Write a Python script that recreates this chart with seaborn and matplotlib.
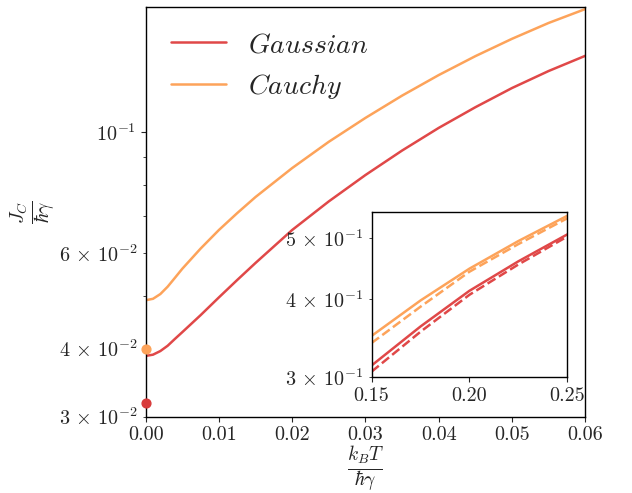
import numpy as np
import pandas as pd
import matplotlib
matplotlib.use("Agg")
import matplotlib.pyplot as plt
import seaborn as sns

# main panel: current vs temperature
T = [0.0, 0.001, 0.002, 0.003, 0.004, 0.005, 0.0075, 0.01, 0.0125, 0.015, 0.02,
     0.025, 0.03, 0.035, 0.04, 0.045, 0.05, 0.055, 0.06]
J_gauss = [0.0388, 0.0390, 0.0396, 0.0405, 0.0417, 0.0429, 0.0461, 0.0497, 0.0535, 0.0575, 0.0661,
           0.0746, 0.0834, 0.0925, 0.1018, 0.1111, 0.1205, 0.1295, 0.1381]
J_cauchy = [0.0491, 0.0494, 0.0504, 0.0520, 0.0540, 0.0561, 0.0611, 0.0661, 0.0710, 0.0760, 0.0859,
            0.0960, 0.1062, 0.1167, 0.1273, 0.1379, 0.1484, 0.1587, 0.1683]

# zero temperature points
J0_gauss = 0.0318
J0_cauchy = 0.0399

# inset: high temperature, solid = full, dashed = approximation
T_hi = [0.15, 0.175, 0.20, 0.225, 0.25]
Jhi_gauss = [0.313, 0.3613, 0.412, 0.4592, 0.507]
Jhi_gauss_approx = [0.306, 0.3544, 0.406, 0.4539, 0.503]
Jhi_cauchy = [0.349, 0.3976, 0.447, 0.4948, 0.543]
Jhi_cauchy_approx = [0.340, 0.3886, 0.442, 0.4893, 0.538]

red = "#e04848"
orange = "#fda35a"

sns.set_style("ticks")
plt.rcParams["font.family"] = "serif"
plt.rcParams["font.serif"] = ["cmr10", "DejaVu Serif"]
plt.rcParams["mathtext.fontset"] = "cm"
plt.rcParams["axes.formatter.use_mathtext"] = True

fs = 14.5


def sci(m, e):
    if m == 1:
        return r"$10^{%d}$" % e
    return r"$%d\,\times\,10^{%d}$" % (m, e)


fig = plt.figure(figsize=(6.32, 4.93), dpi=100)
ax = fig.add_axes([0.2305, 0.1548, 0.6955, 0.8316])

sns.lineplot(x=T, y=J_gauss, color=red, lw=1.8, ax=ax, label=r"$Gaussian$")
sns.lineplot(x=T, y=J_cauchy, color=orange, lw=1.8, ax=ax, label=r"$Cauchy$")
ax.scatter([0.0], [J0_gauss], s=40, color="#d83c3c", clip_on=False, zorder=5)
ax.scatter([0.0], [J0_cauchy], s=40, color=orange, clip_on=False, zorder=5)

ax.set_yscale("log")
ax.set_xlim(0, 0.06)
ax.set_ylim(0.03, 0.17)
ax.set_xticks([0.0, 0.01, 0.02, 0.03, 0.04, 0.05, 0.06])
ax.set_xticklabels(["0.00", "0.01", "0.02", "0.03", "0.04", "0.05", "0.06"])
ax.set_yticks([0.1], [sci(1, -1)])
ax.set_yticks([0.03, 0.04, 0.05, 0.06, 0.07, 0.08, 0.09],
              [sci(3, -2), sci(4, -2), "", sci(6, -2), "", "", ""], minor=True)
ax.tick_params(which="both", labelsize=fs)
ax.set_xlabel(r"$\frac{k_BT}{\hbar\gamma}$", fontsize=20, labelpad=0)
ax.set_ylabel(r"$\frac{J_C}{\hbar\gamma}$", fontsize=20, labelpad=0)
ax.legend(frameon=False, fontsize=20, loc="upper left", handlelength=2.0)
for s in ax.spines.values():
    s.set_color("black")
    s.set_linewidth(1.0)

# inset
axin = fig.add_axes([0.588, 0.2353, 0.3095, 0.334])
sns.lineplot(x=T_hi, y=Jhi_gauss, color=red, lw=1.8, ax=axin)
sns.lineplot(x=T_hi, y=Jhi_gauss_approx, color=red, lw=1.8, ls="--", ax=axin)
sns.lineplot(x=T_hi, y=Jhi_cauchy, color=orange, lw=1.8, ax=axin)
sns.lineplot(x=T_hi, y=Jhi_cauchy_approx, color=orange, lw=1.8, ls="--", ax=axin)
axin.set_yscale("log")
axin.set_xlim(0.15, 0.25)
axin.set_ylim(0.3, 0.55)
axin.set_xticks([0.15, 0.20, 0.25])
axin.set_xticklabels(["0.15", "0.20", "0.25"])
axin.set_yticks([], minor=False)
axin.set_yticks([0.3, 0.4, 0.5], [sci(3, -1), sci(4, -1), sci(5, -1)], minor=True)
axin.tick_params(which="both", labelsize=fs)
for s in axin.spines.values():
    s.set_color("black")
    s.set_linewidth(1.0)

fig.savefig("out.png", dpi=100)
